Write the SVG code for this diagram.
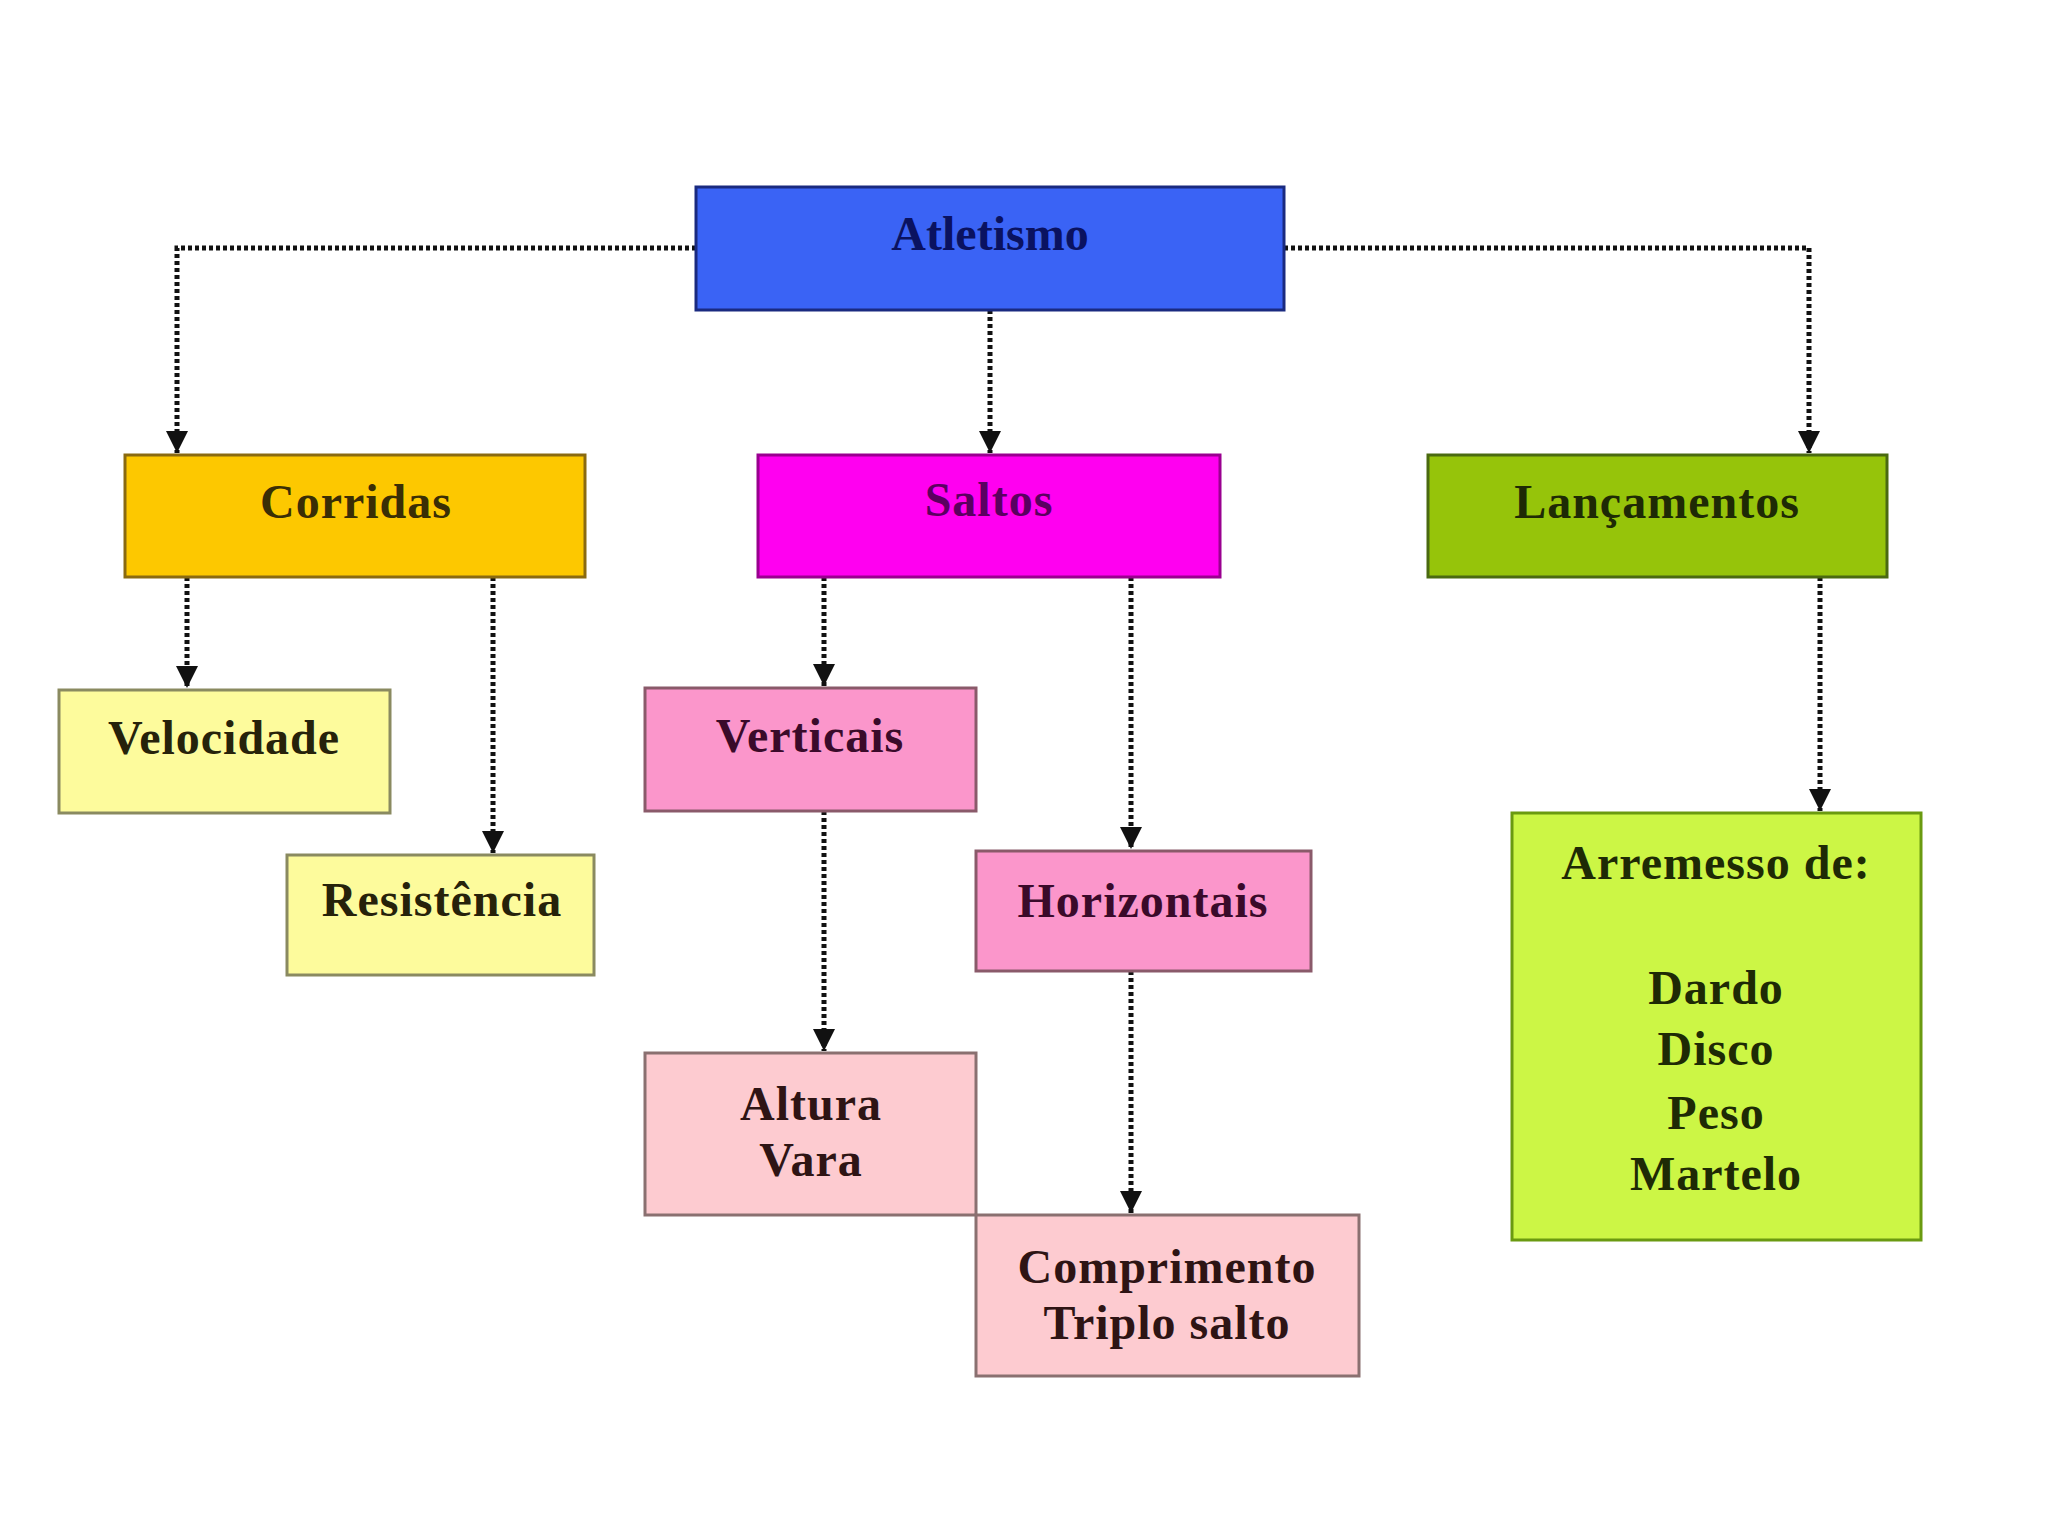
<svg xmlns="http://www.w3.org/2000/svg" width="2048" height="1536" viewBox="0 0 2048 1536">
<defs>
<marker id="arr" markerUnits="userSpaceOnUse" markerWidth="22" markerHeight="22" viewBox="0 0 22 22" refX="22" refY="11" orient="auto">
<path d="M0,0 L22,11 L0,22 Z" fill="#111"/>
</marker>
<style>
.box{stroke-width:3}
text{font-family:"Liberation Serif","Times New Roman",serif;font-weight:bold;font-size:48px;text-anchor:middle;letter-spacing:1px}
.ca{fill:none;stroke:#111;stroke-width:5;stroke-dasharray:4 3;marker-end:url(#arr)}
</style>
</defs>
<rect width="2048" height="1536" fill="#ffffff"/>
<g id="connectors">
<path class="ca" d="M696,248 H177 V453"/>
<path class="ca" d="M1284,248 H1809 V453"/>
<path class="ca" d="M990,310 V453"/>
<path class="ca" d="M187,577 V688"/>
<path class="ca" d="M493,577 V853"/>
<path class="ca" d="M824,577 V686"/>
<path class="ca" d="M1131,577 V849"/>
<path class="ca" d="M824,811 V1051"/>
<path class="ca" d="M1131,971 V1213"/>
<path class="ca" d="M1820,577 V811"/>
</g>
<g id="atletismo">
<rect class="box" x="696" y="187" width="588" height="123" fill="#3a63f5" stroke="#1a2a80"/>
<text x="990" y="250" fill="#0a1260" style="letter-spacing:0">Atletismo</text>
</g>
<g id="corridas">
<rect class="box" x="125" y="455" width="460" height="122" fill="#fdc800" stroke="#8a6a10"/>
<text x="356" y="518" fill="#3a2e05">Corridas</text>
</g>
<g id="saltos">
<rect class="box" x="758" y="455" width="462" height="122" fill="#ff00f0" stroke="#9a0090"/>
<text x="989" y="516" fill="#5a0060">Saltos</text>
</g>
<g id="lancamentos">
<rect class="box" x="1428" y="455" width="459" height="122" fill="#96c40a" stroke="#4a6a10"/>
<text x="1657" y="518" fill="#1e2a05">Lançamentos</text>
</g>
<g id="velocidade">
<rect class="box" x="59" y="690" width="331" height="123" fill="#fdfb9c" stroke="#8a8a60"/>
<text x="224" y="754" fill="#26220a">Velocidade</text>
</g>
<g id="resistencia">
<rect class="box" x="287" y="855" width="307" height="120" fill="#fdfb9c" stroke="#8a8a60"/>
<text x="442" y="916" fill="#26220a">Resistência</text>
</g>
<g id="verticais">
<rect class="box" x="645" y="688" width="331" height="123" fill="#fb96cb" stroke="#8a5a6a"/>
<text x="810" y="752" fill="#3a0a2a">Verticais</text>
</g>
<g id="horizontais">
<rect class="box" x="976" y="851" width="335" height="120" fill="#fb96cb" stroke="#8a5a6a"/>
<text x="1143" y="917" fill="#3a0a2a">Horizontais</text>
</g>
<g id="altura">
<rect class="box" x="645" y="1053" width="331" height="162" fill="#fdcbd0" stroke="#8a7070"/>
<text x="811" y="1120" fill="#2e1414">Altura</text>
<text x="811" y="1176" fill="#2e1414">Vara</text>
</g>
<g id="comprimento">
<rect class="box" x="976" y="1215" width="383" height="161" fill="#fdcbd0" stroke="#8a7070"/>
<text x="1167" y="1283" fill="#2e1414">Comprimento</text>
<text x="1167" y="1339" fill="#2e1414">Triplo salto</text>
</g>
<g id="arremesso">
<rect class="box" x="1512" y="813" width="409" height="427" fill="#ccf645" stroke="#6a9a10"/>
<text x="1716" y="879" fill="#1e2a05">Arremesso de:</text>
<text x="1716" y="1004" fill="#1e2a05">Dardo</text>
<text x="1716" y="1065" fill="#1e2a05">Disco</text>
<text x="1716" y="1129" fill="#1e2a05">Peso</text>
<text x="1716" y="1190" fill="#1e2a05">Martelo</text>
</g>
</svg>
